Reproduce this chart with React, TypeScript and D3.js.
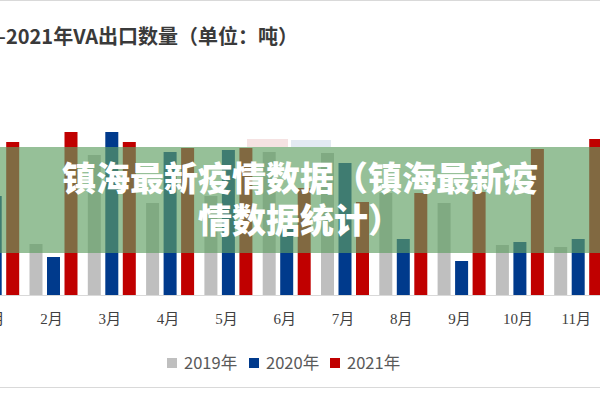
import React from "react";
import * as d3 from "d3";

const months = ["1月", "2月", "3月", "4月", "5月", "6月", "7月", "8月", "9月", "10月", "11月", "12月"];
const seriesNames = ["2019年", "2020年", "2021年"];
const colors = ["#bfbfbf", "#003a8c", "#c00000"];
const v2019 = [5200, 2550, 7000, 4600, 4950, 7150, 7100, 5100, 4600, 2500, 2400, 2600];
const v2020 = [4950, 1900, 8150, 7150, 7250, 3350, 6600, 2800, 1700, 2650, 2800, 3000];
const v2021 = [7650, 8150, 7650, 7350, 7350, 5350, 4650, 5100, 5150, 7300, 7800, 7000];
const title = "2019—2021年VA出口数量（单位：吨）";
const bannerLines = ["镇海最新疫情数据（镇海最新疫", "情数据统计）"];

export default function App() {
  const W = 600, H = 400;
  const base = 295;
  const x0 = d3.scaleBand<string>().domain(months).range([-33.95, 665.65]).padding(0);
  const x1 = d3.scaleBand<string>().domain(seriesNames).range([5.15, 53.15]).paddingInner(0.257).paddingOuter(0);
  const y = d3.scaleLinear().domain([0, 10000]).range([base, 95]);
  const allSeries = [v2019, v2020, v2021];
  const sans = "'Noto Sans CJK SC', 'Noto Sans', sans-serif";
  const serif = "'Liberation Serif', 'Noto Sans CJK SC', serif";
  const legendX = [167, 249, 330];
  return (
    <svg width={W} height={H} style={{ position: "fixed", left: 0, top: 0, background: "#fff" }}>
      <rect x={0} y={0} width={W} height={H} fill="#fff" />
      <line x1={0} x2={W} y1={0.5} y2={0.5} stroke="#d9d9d9" />
      <text x={298} y={44} textAnchor="end" fontFamily={sans} fontWeight={700} fontSize={20} fill="#3a3a3a">{title}</text>
      {/* faint ghost blocks */}
      <rect x={247} y={139} width={41} height={8} fill="#f5e2e2" />
      <rect x={291} y={140} width={40} height={7} fill="#e3eaf2" />
      {allSeries.map((vals, si) =>
        vals.map((v, mi) => (
          <rect
            key={si + "-" + mi}
            x={(x0(months[mi]) as number) + (x1(seriesNames[si]) as number)}
            y={y(v)}
            width={x1.bandwidth()}
            height={base - y(v)}
            fill={colors[si]}
          />
        ))
      )}
      <line x1={0} x2={W} y1={base + 0.5} y2={base + 0.5} stroke="#d9d9d9" />
      {months.map((m) => (
        <text key={m} x={(x0(m) as number) + x0.bandwidth() / 2 - 2} y={324} textAnchor="middle" fontFamily={serif} fontSize={15} fill="#404040">{m}</text>
      ))}
      {seriesNames.map((s, i) => (
        <g key={s}>
          <rect x={legendX[i]} y={358} width={10} height={10} fill={colors[i]} />
          <text x={legendX[i] + 17} y={369} fontFamily={sans} fontSize={16.5} fill="#595959">{s}</text>
        </g>
      ))}
      <line x1={0} x2={W} y1={387.5} y2={387.5} stroke="#d9d9d9" />
      <rect x={0} y={147} width={W} height={106} fill="rgb(96,159,98)" opacity={0.66} />
      {bannerLines.map((t, i) => (
        <text key={i} x={300} y={191 + i * 42} textAnchor="middle" fontFamily={sans} fontWeight={900} fontSize={34} fill="#fff">{t}</text>
      ))}
    </svg>
  );
}
